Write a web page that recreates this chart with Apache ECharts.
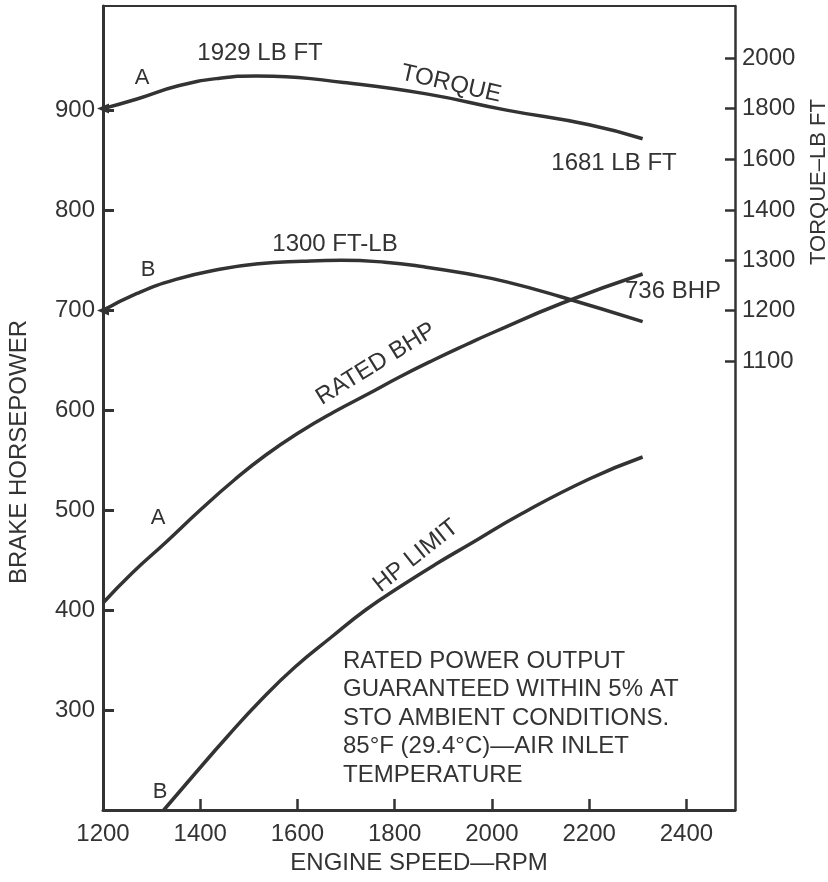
<!DOCTYPE html>
<html>
<head>
<meta charset="utf-8">
<title>Engine performance curves</title>
<script src="https://cdn.jsdelivr.net/npm/echarts@6/dist/echarts.min.js"></script>
<style>
  html, body { margin: 0; padding: 0; background: #ffffff; }
  #chart { width: 828px; height: 882px; }
</style>
</head>
<body>
<div id="chart"></div>
<script>
// Engine speed ticks (rpm) and the axis tick values on each scale
const rpmTicks = [1200, 1400, 1600, 1800, 2000, 2200, 2400];
const bhpTicks = [300, 400, 500, 600, 700, 800, 900];
const torqueUpperTicks = [1400, 1600, 1800, 2000];   // scale used by torque curve A
const torqueLowerTicks = [1100, 1200, 1300];         // scale used by torque curve B

// Torque curve A (lb ft)
const rpmTorqueA = [1200, 1270, 1355, 1440, 1515, 1550, 1695, 1865, 2030, 2200, 2310];
const torqueA    = [1800, 1838, 1890, 1920, 1929, 1928, 1903, 1858, 1794, 1736, 1681];

// Torque curve B (ft-lb)
const rpmTorqueB = [1200, 1270, 1350, 1440, 1520, 1610, 1690, 1780, 1860, 1950, 2030, 2140, 2310];
const torqueB    = [1200, 1234, 1262, 1282, 1293, 1298, 1300, 1296, 1287, 1273, 1257, 1228, 1178];

// Rated brake horsepower (curve A)
const rpmRated = [1200, 1260, 1330, 1400, 1470, 1535, 1605, 1675, 1745, 1810, 1880, 1950, 2000, 2145, 2310];
const ratedBhp = [407, 437, 468, 500, 530, 555, 578, 598, 616, 633, 650, 666, 677, 707, 736];

// Horsepower limit (curve B)
const rpmLimit = [1325, 1385, 1455, 1525, 1595, 1670, 1740, 1810, 1885, 1955, 2060, 2200, 2310];
const hpLimit  = [200, 234, 273, 310, 343, 373, 400, 423, 446, 466, 496, 531, 553];

const ink = '#333333';
const font = '"Liberation Sans", Arial, Helvetica, sans-serif';

const pairs = (xs, ys) => xs.map((x, i) => [x, ys[i]]);
const last = arr => arr[arr.length - 1];
const plain = v => String(v);

const chart = echarts.init(document.getElementById('chart'), null, { renderer: 'canvas' });

const labelStyle = { color: ink, fontSize: 24, fontFamily: font, formatter: plain };

function curve(name, data, yAxisIndex, arrow) {
  return {
    name,
    type: 'line',
    xAxisIndex: 0,
    yAxisIndex,
    data,
    smooth: 0.5,
    showSymbol: !!arrow,
    symbol: arrow ? ((v, p) => (p.dataIndex === 0 ? 'triangle' : 'none')) : 'none',
    symbolSize: [10, 12],
    symbolRotate: 90,
    itemStyle: { color: ink },
    lineStyle: { color: ink, width: 3.5 },
    silent: true,
    animation: false
  };
}

function label(text, x, y, opts = {}) {
  return {
    type: 'text',
    x, y,
    rotation: opts.rotation || 0,
    silent: true,
    style: {
      text,
      fill: ink,
      font: `${opts.size || 24}px ${font}`,
      align: opts.align || 'center',
      verticalAlign: opts.verticalAlign || 'middle',
      lineHeight: opts.lineHeight
    }
  };
}

const deg = d => d * Math.PI / 180;

const option = {
  backgroundColor: '#ffffff',
  animation: false,
  grid: { left: 103, right: 93, top: 6, bottom: 72, containLabel: false },
  xAxis: [
    {
      type: 'value', position: 'bottom', min: 1200, max: 2500,
      axisLine: { show: true, onZero: false, lineStyle: { color: ink, width: 3 } },
      splitLine: { show: false },
      axisTick: { show: true, inside: true, length: 11, customValues: rpmTicks,
                  lineStyle: { color: ink, width: 2.5 } },
      axisLabel: { ...labelStyle, margin: 12, customValues: rpmTicks },
      name: 'ENGINE SPEED—RPM',
      nameLocation: 'middle',
      nameGap: 38,
      nameTextStyle: { color: ink, fontSize: 24, fontFamily: font, verticalAlign: 'top' }
    },
    {
      type: 'value', position: 'top', min: 1200, max: 2500,
      axisLine: { show: true, onZero: false, lineStyle: { color: ink, width: 2 } },
      axisTick: { show: false }, axisLabel: { show: false }, splitLine: { show: false }
    }
  ],
  yAxis: [
    {
      type: 'value', position: 'left', min: 200, max: 1004,
      axisLine: { show: true, onZero: false, lineStyle: { color: ink, width: 3 } },
      splitLine: { show: false },
      axisTick: { show: true, inside: true, length: 11, customValues: bhpTicks,
                  lineStyle: { color: ink, width: 3 } },
      axisLabel: { ...labelStyle, margin: 8, customValues: bhpTicks }
    },
    {
      type: 'value', position: 'right', min: -969, max: 2205,
      axisLine: { show: true, onZero: false, lineStyle: { color: ink, width: 2.5 } },
      splitLine: { show: false },
      axisTick: { show: true, inside: true, length: 10, customValues: torqueUpperTicks,
                  lineStyle: { color: ink, width: 2.5 } },
      axisLabel: { ...labelStyle, margin: 7, customValues: torqueUpperTicks }
    },
    {
      type: 'value', position: 'right', min: 208, max: 1805,
      axisLine: { show: false, onZero: false },
      splitLine: { show: false },
      axisTick: { show: true, inside: true, length: 10, customValues: torqueLowerTicks,
                  lineStyle: { color: ink, width: 2.5 } },
      axisLabel: { ...labelStyle, margin: 7, customValues: torqueLowerTicks }
    }
  ],
  series: [
    curve('Torque A', pairs(rpmTorqueA, torqueA), 1, true),
    curve('Torque B', pairs(rpmTorqueB, torqueB), 2, true),
    curve('Rated BHP', pairs(rpmRated, ratedBhp), 0, false),
    curve('HP Limit', pairs(rpmLimit, hpLimit), 0, false)
  ],
  graphic: [
    // axis titles
    label('BRAKE HORSEPOWER', 19, 452, { rotation: deg(90) }),
    label('TORQUE–LB FT', 819, 182, { rotation: deg(90), size: 22 }),
    // curve annotations
    label(`${Math.max(...torqueA)} LB FT`, 260, 53),
    label('TORQUE', 451, 84, { rotation: deg(-13) }),
    label(`${last(torqueA)} LB FT`, 614, 163),
    label(`${Math.max(...torqueB)} FT-LB`, 335, 244),
    label(`${last(ratedBhp)} BHP`, 673, 291),
    label('RATED BHP', 376, 364, { rotation: deg(31.6) }),
    label('HP LIMIT', 416, 556, { rotation: deg(38.5) }),
    label('A', 142, 78, { size: 22 }),
    label('B', 148, 270, { size: 22 }),
    label('A', 158, 518, { size: 22 }),
    label('B', 160, 792, { size: 22 }),
    // note block
    label('RATED POWER OUTPUT\nGUARANTEED WITHIN 5% AT\nSTO AMBIENT CONDITIONS.\n85°F (29.4°C)—AIR INLET\nTEMPERATURE',
          343, 647, { align: 'left', verticalAlign: 'top', lineHeight: 28.5 })
  ]
};

chart.setOption(option);
</script>
</body>
</html>
